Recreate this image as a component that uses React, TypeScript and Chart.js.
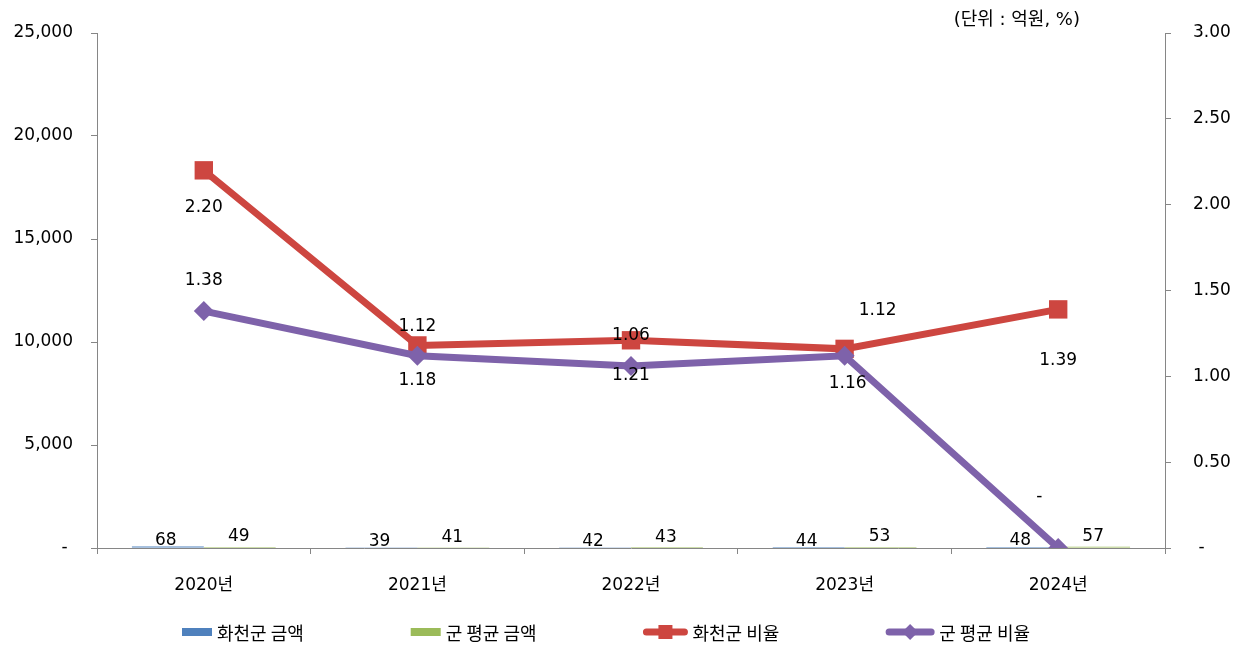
import React, { useEffect, useRef } from "react";
import { Chart, registerables } from "chart.js";

Chart.register(...registerables);

// ---- data ----
const categories = ["2020년", "2021년", "2022년", "2023년", "2024년"];
const hwacheonAmount = [68, 39, 42, 44, 48];
const avgAmount = [49, 41, 43, 53, 57];
const hwacheonRatio = [2.2, 1.18, 1.21, 1.16, 1.39];
const avgRatio = [1.38, 1.12, 1.06, 1.12, 0];
const seriesNames = ["화천군 금액", "군 평균 금액", "화천군 비율", "군 평균 비율"];
const leftAxisMax = 25000;
const leftAxisStep = 5000;
const rightAxisMax = 3;
const rightAxisStep = 0.5;
const unitLabel = "(단위 : 억원, %)";

// ---- styles ----
const FONT = '"DejaVu Sans", "Noto Sans CJK KR", sans-serif';
const LEGEND_FONT = '"Noto Sans CJK KR", "Noto Sans", sans-serif';
const FONT_SIZE = 17;
const AXIS_GRAY = "#868686";
const BLUE = "#4F81BD";
const GREEN = "#9BBB59";
const RED = "#CD4640";
const PURPLE = "#7E62AA";

// label offsets (dx, dy) for line value labels, per line series / point
const lineLabelOffsets = [
  [[0, 37], [0, 35], [0, 35], [3, 35], [0, 51]],
  [[0, -31], [0, -29], [0, -30], [33, -45], [-19, -51]],
];
const barLabelOffsets = [[-2, -6], [-1, -10]];

const valueLabelPlugin = {
  id: "valueLabels",
  afterDatasetsDraw(chart: any) {
    const ctx = chart.ctx;
    ctx.save();
    ctx.font = `${FONT_SIZE}px ${FONT}`;
    ctx.fillStyle = "#000";
    ctx.textAlign = "center";
    ctx.textBaseline = "middle";
    chart.data.datasets.forEach((ds: any, i: number) => {
      const meta = chart.getDatasetMeta(i);
      meta.data.forEach((el: any, j: number) => {
        const v = ds.data[j];
        let text: string;
        let dx: number;
        let dy: number;
        if (ds.type === "bar") {
          text = String(v);
          [dx, dy] = barLabelOffsets[i];
        } else {
          text = v === 0 ? "-" : v.toFixed(2);
          [dx, dy] = lineLabelOffsets[i - 2][j];
        }
        ctx.fillText(text, el.x + dx, el.y + dy);
      });
    });
    ctx.restore();
  },
};

const legendPlugin = {
  id: "bottomLegend",
  afterDraw(chart: any) {
    const ctx = chart.ctx;
    ctx.save();
    ctx.font = `18px ${LEGEND_FONT}`;
    ctx.textBaseline = "middle";
    ctx.textAlign = "left";
    const y = 632;
    const startX = 182;
    const span = 848;
    const iconW = [30, 30, 44, 48];
    const textGap = 5;
    const widths = seriesNames.map((t) => ctx.measureText(t).width);
    const content =
      iconW.reduce((a, b) => a + b, 0) +
      widths.reduce((a, b) => a + b, 0) +
      textGap * seriesNames.length;
    const gap = (span - content) / (seriesNames.length - 1);
    let x = startX;
    const colors = [BLUE, GREEN, RED, PURPLE];
    seriesNames.forEach((name, i) => {
      const w = iconW[i];
      ctx.fillStyle = colors[i];
      ctx.strokeStyle = colors[i];
      if (i < 2) {
        ctx.fillRect(x, y - 4, w, 8);
      } else {
        ctx.lineWidth = 7;
        ctx.lineCap = "round";
        ctx.beginPath();
        ctx.moveTo(x + 3, y);
        ctx.lineTo(x + w - 3, y);
        ctx.stroke();
        const cx = x + w / 2;
        if (i === 2) {
          ctx.fillRect(cx - 7, y - 7, 14, 14);
        } else {
          ctx.beginPath();
          ctx.moveTo(cx, y - 8);
          ctx.lineTo(cx + 8, y);
          ctx.lineTo(cx, y + 8);
          ctx.lineTo(cx - 8, y);
          ctx.closePath();
          ctx.fill();
        }
      }
      ctx.fillStyle = "#000";
      ctx.fillText(name, x + w + textGap, y + 1);
      x += w + textGap + widths[i] + gap;
    });
    // unit label
    ctx.textAlign = "right";
    ctx.font = `18px ${FONT}`;
    ctx.fillText(unitLabel, 1080, 20);
    ctx.restore();
  },
};

export default function App() {
  const canvasRef = useRef<HTMLCanvasElement | null>(null);

  useEffect(() => {
    document.body.style.margin = "0";
    const canvas = canvasRef.current;
    if (!canvas) return;
    const tickFont = { family: FONT, size: FONT_SIZE };
    const chart = new Chart(canvas, {
      data: {
        labels: categories,
        datasets: [
          {
            type: "bar",
            label: seriesNames[0],
            data: hwacheonAmount,
            backgroundColor: BLUE,
            yAxisID: "y",
            order: 2,
            categoryPercentage: 0.673,
            barPercentage: 1,
          },
          {
            type: "bar",
            label: seriesNames[1],
            data: avgAmount,
            backgroundColor: GREEN,
            yAxisID: "y",
            order: 3,
            categoryPercentage: 0.673,
            barPercentage: 1,
          },
          {
            type: "line",
            label: seriesNames[2],
            data: hwacheonRatio,
            borderColor: RED,
            backgroundColor: RED,
            borderWidth: 7,
            pointStyle: "rect",
            pointRadius: 13,
            pointBorderWidth: 0,
            yAxisID: "y1",
            order: 1,
          },
          {
            type: "line",
            label: seriesNames[3],
            data: avgRatio,
            borderColor: PURPLE,
            backgroundColor: PURPLE,
            borderWidth: 7,
            pointStyle: "rectRot",
            pointRadius: 10,
            pointBorderWidth: 0,
            yAxisID: "y1",
            order: 0,
          },
        ],
      } as any,
      options: {
        animation: false,
        responsive: true,
        maintainAspectRatio: false,
        layout: { padding: { top: 33, bottom: 44, left: 0, right: 0 } },
        plugins: {
          legend: { display: false },
          tooltip: { enabled: false },
          title: { display: false },
        },
        scales: {
          x: {
            type: "category",
            offset: true,
            grid: {
              display: true,
              drawOnChartArea: false,
              drawTicks: true,
              tickLength: 6,
              color: AXIS_GRAY,
              offset: true,
            },
            border: { display: true, color: AXIS_GRAY, width: 1 },
            ticks: { font: tickFont, color: "#000", padding: 21 },
            afterFit: (scale: any) => {
              scale.height = 55;
            },
          },
          y: {
            type: "linear",
            position: "left",
            min: 0,
            max: leftAxisMax,
            grid: {
              display: true,
              drawOnChartArea: false,
              tickLength: 6,
              color: AXIS_GRAY,
            },
            border: { display: true, color: AXIS_GRAY, width: 1 },
            ticks: {
              stepSize: leftAxisStep,
              font: tickFont,
              color: "#000",
              padding: 18,
              callback: (v: any) =>
                Number(v) === 0 ? "- " : Number(v).toLocaleString("en-US"),
            },
            afterFit: (scale: any) => {
              scale.width = 97;
            },
          },
          y1: {
            type: "linear",
            position: "right",
            min: 0,
            max: rightAxisMax,
            grid: {
              display: true,
              drawOnChartArea: false,
              tickLength: 6,
              color: AXIS_GRAY,
            },
            border: { display: true, color: AXIS_GRAY, width: 1 },
            ticks: {
              stepSize: rightAxisStep,
              font: tickFont,
              color: "#000",
              padding: 22,
              callback: (v: any) => (Number(v) === 0 ? " -" : Number(v).toFixed(2)),
            },
            afterFit: (scale: any) => {
              scale.width = 82;
            },
          },
        },
      } as any,
      plugins: [valueLabelPlugin, legendPlugin],
    });
    return () => chart.destroy();
  }, []);

  return (
    <div style={{ width: 1247, height: 647, position: "relative" }}>
      <canvas ref={canvasRef} />
    </div>
  );
}
